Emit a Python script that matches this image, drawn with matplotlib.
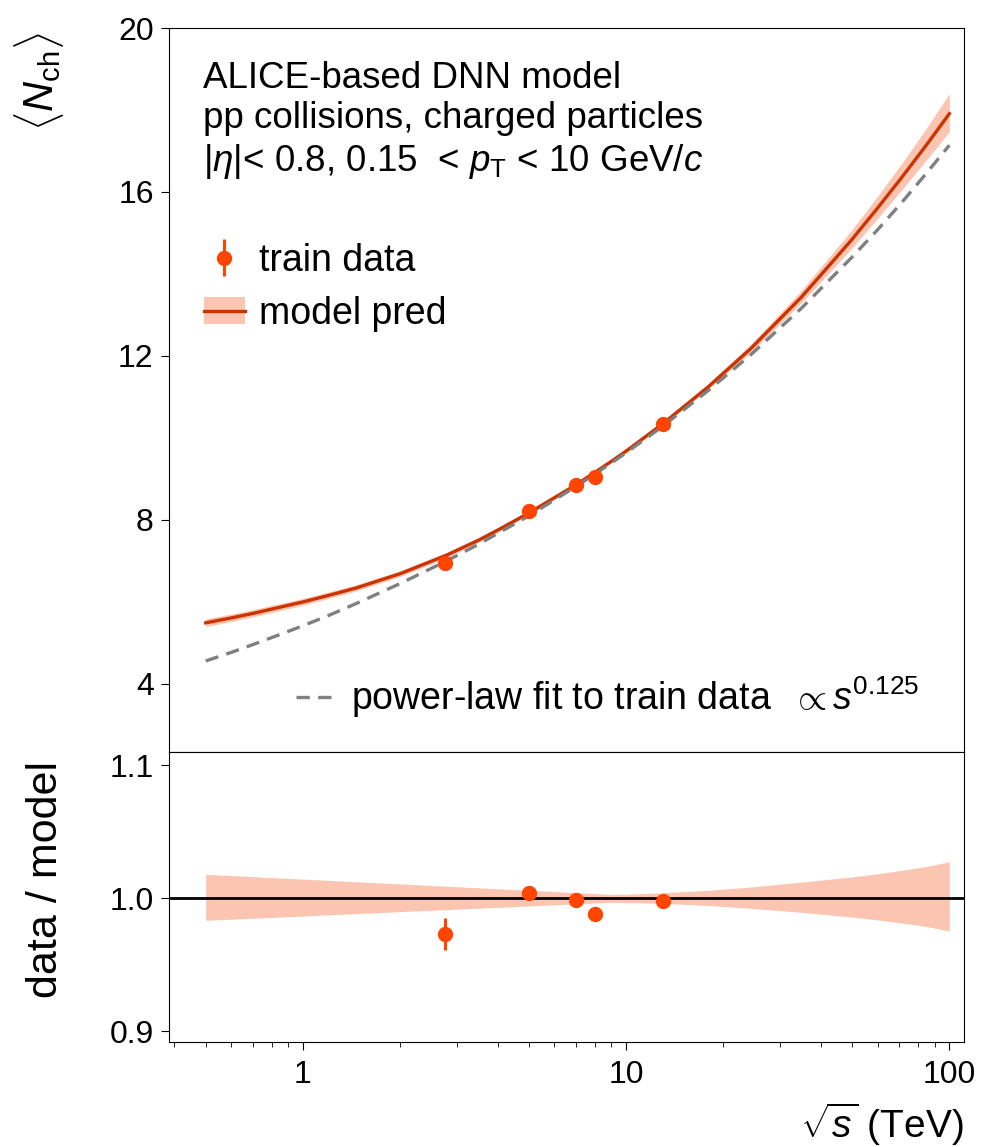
import matplotlib
matplotlib.use("Agg")
import matplotlib.pyplot as plt
from matplotlib.patches import Patch
from matplotlib.lines import Line2D
from matplotlib.ticker import FixedLocator, FixedFormatter

plt.rcParams['font.family'] = ['Liberation Sans', 'DejaVu Sans']
plt.rcParams['mathtext.fontset'] = 'custom'
plt.rcParams['mathtext.rm'] = 'Liberation Sans'
plt.rcParams['mathtext.it'] = 'Liberation Sans:italic'

# train data (sqrt(s) in TeV)
data_x = [2.76, 5.02, 7.0, 8.0, 13.0]
data_y = [6.96, 8.22, 8.85, 9.05, 10.34]
data_err = [0.08, 0.03, 0.03, 0.03, 0.03]
ratio_y = [0.973, 1.004, 0.999, 0.988, 0.998]
ratio_err = [0.012, 0.003, 0.003, 0.003, 0.003]

# model prediction, its relative uncertainty and the power-law fit
grid_x = [0.5, 0.6, 0.7, 0.825, 1, 1.2, 1.46, 2, 2.78, 3.5, 4, 5, 7, 8, 9, 10,
          13, 17.9, 24.3, 34.8, 49.7, 60, 71, 85, 100]
model_y = [5.49, 5.61, 5.72, 5.85, 6.00, 6.16, 6.34, 6.69, 7.14, 7.51, 7.75, 8.17, 8.86, 9.16, 9.43, 9.68,
           10.35, 11.24, 12.18, 13.43, 14.82, 15.61, 16.34, 17.15, 17.91]
rel_up = [0.0180, 0.0171, 0.0163, 0.0154, 0.0144, 0.0135, 0.0124, 0.0108, 0.0091, 0.0079, 0.0072, 0.0060,
          0.0043, 0.0036, 0.0030, 0.0031, 0.0042, 0.0060, 0.0085, 0.0122, 0.0160, 0.0185, 0.0210, 0.0240, 0.0275]
rel_lo = [0.0165, 0.0157, 0.0149, 0.0142, 0.0133, 0.0124, 0.0115, 0.0100, 0.0085, 0.0074, 0.0068, 0.0057,
          0.0042, 0.0035, 0.0030, 0.0031, 0.0038, 0.0053, 0.0075, 0.0105, 0.0140, 0.0162, 0.0185, 0.0212, 0.0245]
fit_y = [4.56, 4.77, 4.96, 5.17, 5.42, 5.67, 5.96, 6.45, 7.00, 7.41, 7.67, 8.10, 8.82, 9.12, 9.39, 9.64,
         10.29, 11.15, 12.03, 13.16, 14.39, 15.08, 15.73, 16.46, 17.14]

c_data = '#ff4500'
c_line = '#cc3300'
c_band = '#fcc5b2'

fig = plt.figure(figsize=(9.84, 11.47), dpi=100)
ax = fig.add_axes([169/984, (1147-752)/1147, 795/984, 724/1147])
axr = fig.add_axes([169/984, (1147-1042)/1147, 795/984, 290/1147], sharex=ax)

band_hi = [m*(1+u) for m, u in zip(model_y, rel_up)]
band_lo = [m*(1-l) for m, l in zip(model_y, rel_lo)]
ax.fill_between(grid_x, band_lo, band_hi, color=c_band, lw=0)
ax.plot(grid_x, model_y, color=c_line, lw=2.4)
fit_line, = ax.plot(grid_x, fit_y, color='gray', lw=2.4, ls=(0, (4, 2.5)))
ax.errorbar(data_x, data_y, yerr=data_err, fmt='o', color=c_data, ms=10, elinewidth=2.2, capsize=0)

ax.set_xscale('log')
ax.set_xlim(0.385, 111)
ax.set_ylim(2.34, 20)
ax.set_yticks([4, 8, 12, 16, 20])
ax.tick_params(axis='y', labelsize=23, length=6, pad=5)
ax.tick_params(axis='x', which='both', labelbottom=False, length=0)

ax.text(0.043, 0.955,
        "ALICE-based DNN model\npp collisions, charged particles\n"
        r"$|\eta|$< 0.8, 0.15  < $p_{\rm T}$ < 10 GeV/$c$",
        transform=ax.transAxes, ha='left', va='top', fontsize=26.5, linespacing=1.2)

h_data = ax.errorbar([], [], yerr=[], fmt='o', color=c_data, ms=10, elinewidth=2.2)
h_model = (Patch(color=c_band, lw=0), Line2D([], [], color=c_line, lw=2.4))
leg1 = ax.legend([h_data, h_model], ['train data', 'model pred'], loc='upper left',
                 bbox_to_anchor=(0.001, 0.75), frameon=False, fontsize=27,
                 handlelength=1.1, handletextpad=0.37, labelspacing=0.45, borderpad=0.4)
ax.add_artist(leg1)
ax.legend([fit_line], [r"power-law fit to train data  $\propto s^{0.125}$"],
          loc='lower right', bbox_to_anchor=(0.986, -0.003), frameon=False, fontsize=27,
          handlelength=1.1, handletextpad=0.35, borderpad=0.4)

ax.set_ylabel(r"$\langle N_{\rm ch}\rangle$", fontsize=30, loc='top')
ax.yaxis.set_label_coords(-0.13, 0.995)

# ratio panel
ratio_hi = [1+u for u in rel_up]
ratio_lo = [1-l for l in rel_lo]
axr.fill_between(grid_x, ratio_lo, ratio_hi, color=c_band, lw=0)
axr.axhline(1.0, color='black', lw=2)
axr.errorbar(data_x, ratio_y, yerr=ratio_err, fmt='o', color=c_data, ms=10, elinewidth=2.2, capsize=0)
axr.set_ylim(0.892, 1.11)
axr.set_yticks([0.9, 1.0, 1.1])
axr.set_yticklabels(['0.9', '1.0', '1.1'])
axr.xaxis.set_major_locator(FixedLocator([1, 10, 100]))
axr.xaxis.set_major_formatter(FixedFormatter(['1', '10', '100']))
axr.tick_params(axis='both', which='major', labelsize=23, length=6, pad=7)
axr.tick_params(axis='y', which='major', pad=5)
axr.tick_params(axis='x', which='minor', length=3.5)
axr.set_ylabel("data / model", fontsize=31)
axr.yaxis.set_label_coords(-0.13, 0.562)
axr.set_xlabel(r"$\sqrt{s}$ (TeV)", fontsize=28, loc='right', labelpad=8)

fig.savefig("out.png", dpi=100)
